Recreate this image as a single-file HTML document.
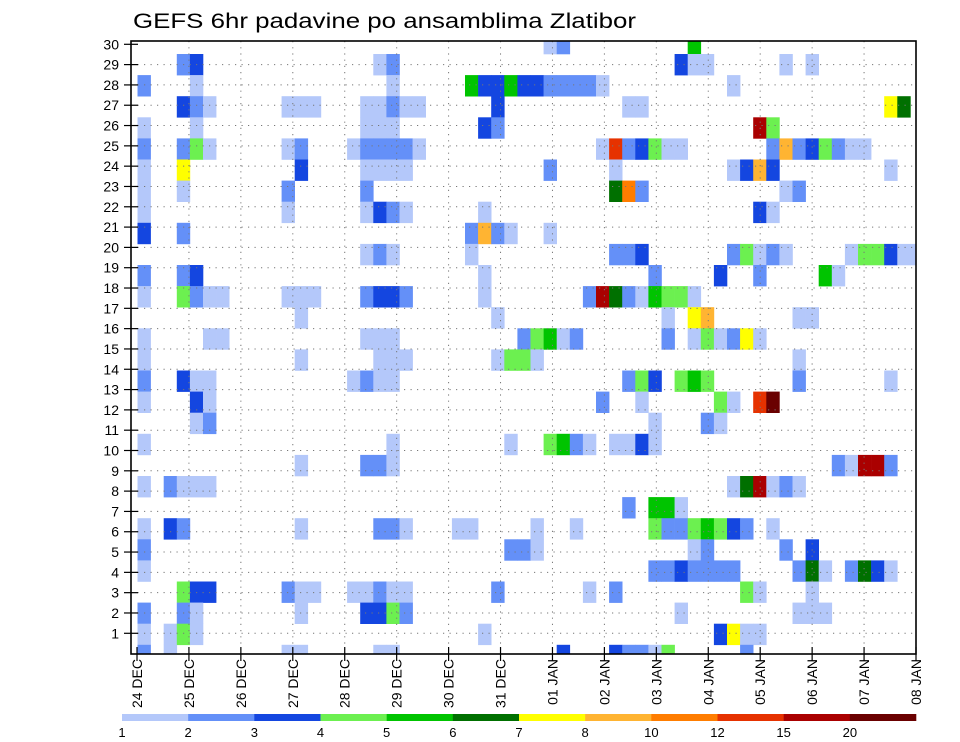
<!DOCTYPE html>
<html><head><meta charset="utf-8"><title>GEFS 6hr padavine po ansamblima Zlatibor</title>
<style>
html,body{margin:0;padding:0;background:#fff;}
svg{display:block;font-family:"Liberation Sans",sans-serif;}
</style></head>
<body>
<svg id="chart" width="960" height="742" viewBox="0 0 960 742" xmlns="http://www.w3.org/2000/svg">
<text x="133" y="28" font-size="21" textLength="503" lengthAdjust="spacingAndGlyphs" fill="#000">GEFS 6hr padavine po ansamblima Zlatibor</text>
<defs><clipPath id="plotclip"><rect x="131" y="41" width="785" height="613"/></clipPath></defs>
<g id="cells" clip-path="url(#plotclip)"></g>
<g id="grid"></g>
<rect x="131" y="41" width="785" height="613" fill="none" stroke="#000" stroke-width="1.6"/>
<g id="yaxis"></g>
<g id="xaxis"></g>
<g id="legend"></g>
</svg>
<script>
// ---- data ----
const dayLabels = ["24 DEC","25 DEC","26 DEC","27 DEC","28 DEC","29 DEC","30 DEC","31 DEC","01 JAN","02 JAN","03 JAN","04 JAN","05 JAN","06 JAN","07 JAN","08 JAN"];
const yTickLabels = [1,2,3,4,5,6,7,8,9,10,11,12,13,14,15,16,17,18,19,20,21,22,23,24,25,26,27,28,29,30];
const legendLabels = ["1","2","3","4","5","6","7","8","10","12","15","20"];
const levelColors = ["#b4c8fa","#6490f8","#1446e0","#6cf050","#00c400","#007000","#ffff00","#ffb432","#ff7d00","#e63200","#aa0000","#6a0000"];
// each ensemble row (top to bottom): [timeStepIndex, colorLevel]
const row00 = [[31,1],[32,2],[42,5]];
const row01 = [[3,2],[4,3],[18,1],[19,2],[41,3],[42,1],[43,1],[49,1],[51,1]];
const row02 = [[0,2],[4,1],[19,1],[25,5],[26,3],[27,3],[28,5],[29,3],[30,3],[31,2],[32,2],[33,2],[34,2],[35,1],[45,1]];
const row03 = [[3,3],[4,2],[5,1],[11,1],[12,1],[13,1],[17,1],[18,1],[19,2],[20,1],[21,1],[27,3],[37,1],[38,1],[57,7],[58,6]];
const row04 = [[0,1],[4,1],[17,1],[18,1],[19,1],[26,3],[27,2],[47,11],[48,4]];
const row05 = [[0,2],[3,2],[4,4],[5,1],[11,1],[12,2],[16,1],[17,2],[18,2],[19,2],[20,2],[21,1],[35,1],[36,10],[37,2],[38,3],[39,4],[40,1],[41,1],[48,2],[49,8],[50,2],[51,3],[52,4],[53,2],[54,1],[55,1]];
const row06 = [[0,1],[3,7],[12,3],[17,1],[18,1],[19,1],[20,1],[31,2],[36,1],[45,1],[46,3],[47,8],[48,3],[57,1]];
const row07 = [[0,1],[3,1],[11,2],[17,2],[36,6],[37,9],[38,2],[49,1],[50,2]];
const row08 = [[0,1],[11,1],[17,1],[18,3],[19,2],[20,1],[26,1],[47,3],[48,1]];
const row09 = [[0,3],[3,2],[25,2],[26,8],[27,2],[28,1],[31,1]];
const row10 = [[17,1],[18,2],[19,1],[25,1],[36,2],[37,2],[38,3],[45,2],[46,4],[47,1],[48,2],[49,1],[54,1],[55,4],[56,4],[57,3],[58,1],[59,1]];
const row11 = [[0,2],[3,2],[4,3],[26,1],[39,2],[44,3],[47,2],[52,5],[53,1]];
const row12 = [[0,1],[3,4],[4,2],[5,1],[6,1],[11,1],[12,1],[13,1],[17,2],[18,3],[19,3],[20,2],[26,1],[34,2],[35,11],[36,6],[37,2],[38,1],[39,5],[40,4],[41,4],[42,1]];
const row13 = [[12,1],[27,1],[40,1],[42,7],[43,8],[50,1],[51,1]];
const row14 = [[0,1],[5,1],[6,1],[17,1],[18,1],[19,1],[29,2],[30,4],[31,5],[32,1],[33,2],[40,2],[42,1],[43,4],[44,1],[45,2],[46,7],[47,1]];
const row15 = [[0,1],[12,1],[18,1],[19,1],[20,1],[27,1],[28,4],[29,4],[30,1],[50,1]];
const row16 = [[0,2],[3,3],[4,1],[5,1],[16,1],[17,2],[18,1],[19,1],[37,2],[38,4],[39,3],[41,4],[42,5],[43,4],[50,2],[57,1]];
const row17 = [[0,1],[4,3],[5,1],[35,2],[38,1],[44,4],[45,1],[47,10],[48,12]];
const row18 = [[4,1],[5,2],[39,1],[43,2],[44,1]];
const row19 = [[0,1],[19,1],[28,1],[31,4],[32,5],[33,2],[34,1],[36,1],[37,1],[38,3],[39,1]];
const row20 = [[12,1],[17,2],[18,2],[19,1],[53,2],[54,1],[55,11],[56,11],[57,2]];
const row21 = [[0,1],[2,2],[3,1],[4,1],[5,1],[45,1],[46,6],[47,11],[48,1],[49,2],[50,1]];
const row22 = [[37,2],[39,5],[40,5],[41,1]];
const row23 = [[0,1],[2,3],[3,2],[12,1],[18,2],[19,2],[20,1],[24,1],[25,1],[30,1],[33,1],[39,4],[40,2],[41,2],[42,4],[43,5],[44,4],[45,3],[46,2],[48,1]];
const row24 = [[0,2],[28,2],[29,2],[30,1],[42,1],[43,2],[49,2],[51,3]];
const row25 = [[0,1],[39,2],[40,2],[41,3],[42,2],[43,2],[44,2],[45,2],[50,2],[51,6],[52,1],[54,2],[55,6],[56,3],[57,1]];
const row26 = [[3,4],[4,3],[5,3],[11,2],[12,1],[13,1],[16,1],[17,1],[18,2],[19,1],[20,1],[27,2],[34,1],[36,2],[46,4],[47,1],[51,1]];
const row27 = [[0,2],[3,2],[4,1],[12,1],[17,3],[18,3],[19,4],[20,2],[41,1],[50,1],[51,1],[52,1]];
const row28 = [[0,1],[2,1],[3,4],[4,1],[26,1],[44,3],[45,7],[46,1],[47,1]];
const row29 = [[0,2],[2,1],[11,1],[12,1],[18,1],[19,1],[32,3],[36,3],[37,2],[38,2],[39,1],[40,4],[46,2]];
const ensembleRows = [row00,row01,row02,row03,row04,row05,row06,row07,row08,row09,row10,row11,row12,row13,row14,row15,row16,row17,row18,row19,row20,row21,row22,row23,row24,row25,row26,row27,row28,row29];

// ---- scales ----
const NS = "http://www.w3.org/2000/svg";
const PL = 131, PR = 916, PT = 41, PB = 654;
const cellW = 13.1, cellH = 21.1, cellX0 = 137.5, cellY0 = 32.9;
function xCell(i){ return cellX0 + i*cellW; }
function yCell(j){ return cellY0 + j*cellH; }
function xDay(d){ return 137 + d*(PR-137)/15; }
function yTick(v){ return 653.6 - v*20.31; }
function mk(tag, attrs, parent){ const e = document.createElementNS(NS, tag); for (const k in attrs) e.setAttribute(k, attrs[k]); parent.appendChild(e); return e; }

// ---- cells ----
const gCells = document.getElementById("cells");
ensembleRows.forEach((row, j) => {
  row.forEach(([i, lvl]) => {
    const r = mk("rect", {x: xCell(i).toFixed(2), y: yCell(j).toFixed(2), width: cellW+0.3, height: cellH+0.3, fill: levelColors[lvl-1]}, gCells);
    
    
  });
});

// ---- grid ----
const gGrid = document.getElementById("grid");
for (let v = 1; v < yTickLabels.length; v++) {
  const l = mk("line", {x1: PL, x2: PR, y1: yTick(v), y2: yTick(v), stroke: "#777", "stroke-width": 1, "stroke-dasharray": "1.2,5.3"}, gGrid);
  
  
}
for (let d = 1; d < dayLabels.length - 1; d++) {
  const l = mk("line", {x1: xDay(d), x2: xDay(d), y1: PT, y2: PB, stroke: "#777", "stroke-width": 1, "stroke-dasharray": "1.2,5"}, gGrid);
  
  
}

// ---- y axis ----
const gY = document.getElementById("yaxis");
yTickLabels.forEach(v => {
  const y = yTick(v);
  const t = mk("line", {x1: 124, x2: 138, y1: y, y2: y, stroke: "#000", "stroke-width": 1.2}, gY);
  
  
  const tx = mk("text", {x: 119, y: y + 5, "font-size": 14, "text-anchor": "end", fill: "#000"}, gY);
  tx.textContent = String(v);
  
  
});

// ---- x axis ----
const gX = document.getElementById("xaxis");
dayLabels.forEach((lab, d) => {
  const x = xDay(d);
  const t = mk("line", {x1: x, x2: x, y1: 647, y2: 661, stroke: "#000", "stroke-width": 1.2}, gX);
  
  
  const tx = mk("text", {x: 0, y: 0, "font-size": 14, "text-anchor": "end", fill: "#000", transform: "translate(" + (x + 5) + ",659) rotate(-90)"}, gX);
  tx.textContent = lab;
  
  
});

// ---- legend ----
const gL = document.getElementById("legend");
const LX0 = 122, LX1 = 916, segW = (LX1 - LX0) / levelColors.length;
levelColors.forEach((c, k) => {
  const r = mk("rect", {x: LX0 + k*segW, y: 714, width: segW + 0.3, height: 7, fill: c}, gL);
  
  
});
legendLabels.forEach((lab, k) => {
  const tx = mk("text", {x: LX0 + k*segW, y: 737, "font-size": 13, "text-anchor": "middle", fill: "#000"}, gL);
  tx.textContent = lab;
  
  
});
</script>
</body></html>
